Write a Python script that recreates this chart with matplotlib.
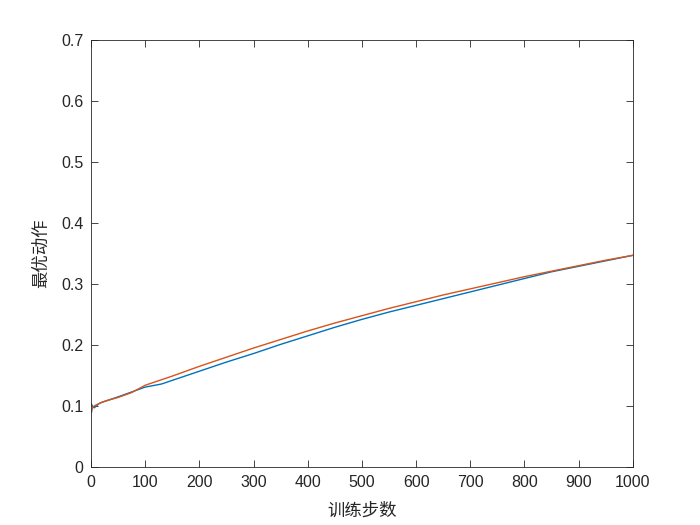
import matplotlib
matplotlib.use('Agg')
import matplotlib.pyplot as plt

plt.rcParams['font.family'] = ['Liberation Sans', 'Noto Sans CJK SC', 'DejaVu Sans']
plt.rcParams['font.size'] = 10

# 训练步数
steps = [1, 3, 6, 10, 15, 20, 30, 50, 75, 100, 130, 150, 200, 250, 300, 350,
         400, 450, 500, 550, 600, 650, 700, 750, 800, 850, 900, 950, 1000]
# 两条曲线
blue_vals = [0.103, 0.099, 0.097, 0.100, 0.104, 0.106, 0.109, 0.115, 0.123, 0.131,
             0.136, 0.142, 0.157, 0.172, 0.186, 0.201, 0.215, 0.229, 0.242, 0.254,
             0.265, 0.276, 0.287, 0.298, 0.309, 0.320, 0.329, 0.338, 0.347]
orange_vals = [0.090, 0.098, 0.100, 0.102, 0.104, 0.106, 0.109, 0.114, 0.122, 0.134,
               0.143, 0.149, 0.165, 0.180, 0.195, 0.209, 0.223, 0.236, 0.248, 0.260,
               0.271, 0.282, 0.292, 0.302, 0.312, 0.321, 0.330, 0.339, 0.347]

xticks = [0, 100, 200, 300, 400, 500, 600, 700, 800, 900, 1000]
yticks = [0, 0.1, 0.2, 0.3, 0.4, 0.5, 0.6, 0.7]

fig = plt.figure(figsize=(7, 5.25), dpi=100)
ax = fig.add_axes([0.13, 0.1105, 0.774, 0.8133])
ax.plot(steps, blue_vals, color='#0072BD', linewidth=1)
ax.plot(steps, orange_vals, color='#D95319', linewidth=1)

ax.set_xlim(0, 1000)
ax.set_ylim(0, 0.7)
ax.set_xticks(xticks)
ax.set_yticks(yticks)
ax.set_xticklabels([str(t) for t in xticks])
ax.set_yticklabels(['0'] + ['%.1f' % t for t in yticks[1:]])
ax.tick_params(direction='in', top=True, right=True, length=5, width=0.6,
               colors='#262626', labelsize=11.5)
ax.tick_params(axis='x', pad=6)
ax.tick_params(axis='y', pad=5.5)
for s in ax.spines.values():
    s.set_linewidth(0.6)
    s.set_color('#262626')

ax.set_xlabel('训练步数', fontsize=12.5, color='#262626',
              family=['Noto Sans CJK SC', 'DejaVu Sans'], labelpad=8)
ax.set_ylabel('最优动作', fontsize=12.5, color='#262626',
              family=['Noto Sans CJK SC', 'DejaVu Sans'], labelpad=8)

fig.savefig('out.png', dpi=100, facecolor='white')
